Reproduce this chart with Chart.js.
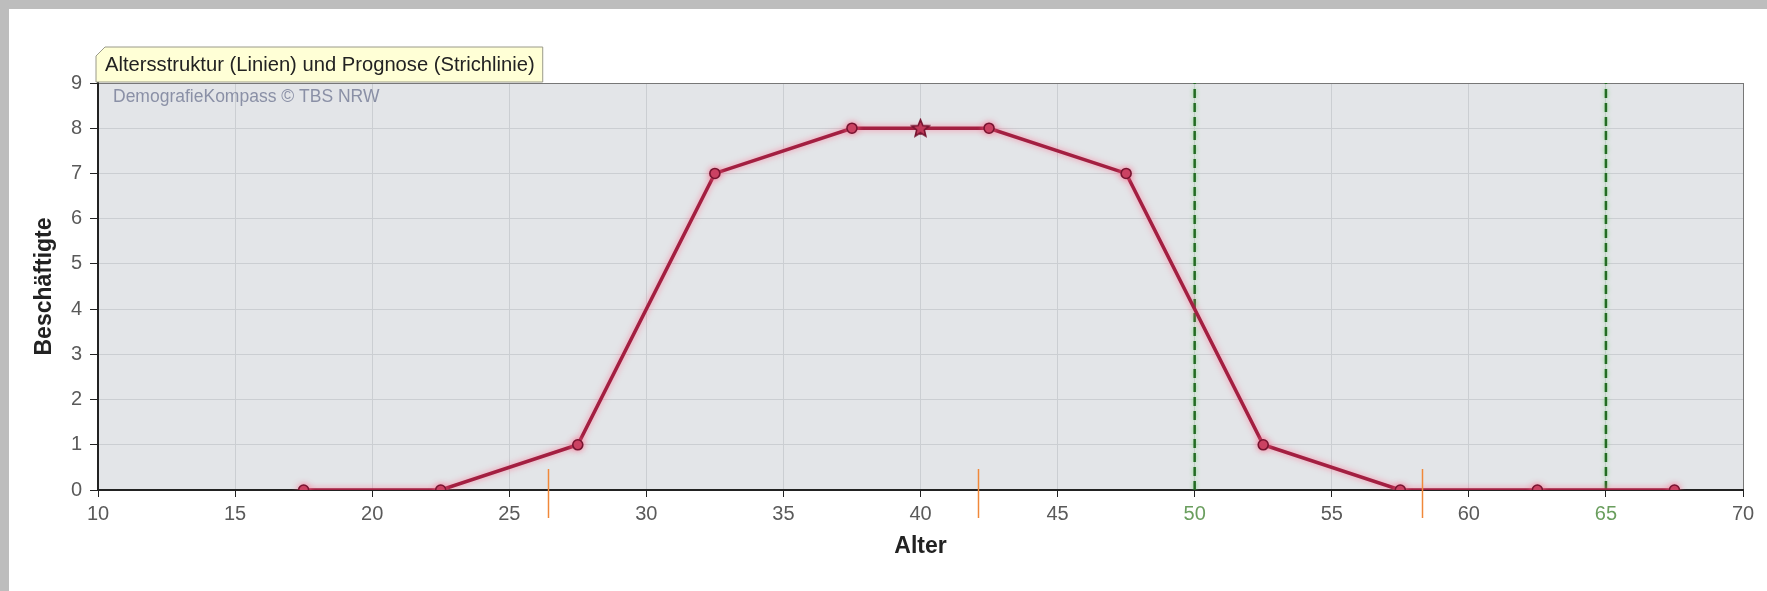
<!DOCTYPE html>
<html>
<head>
<meta charset="utf-8">
<script src="https://cdn.jsdelivr.net/npm/chart.js@4/dist/chart.umd.min.js"></script>
<style>
	html, body { margin: 0; padding: 0; background: #fff; }
	#box { position: relative; width: 1767px; height: 591px; }
</style>
</head>
<body>
<div id="box"><canvas id="myChart"></canvas></div>
<script>
// DATA
let alter = [17.5, 22.5, 27.5, 32.5, 37.5, 42.5, 47.5, 52.5, 57.5, 62.5, 67.5];
let beschaeftigte = [0, 0, 1, 7, 8, 8, 7, 1, 0, 0, 0];
let durchschnittAlter = [40];
let durchschnittWert = [8];
let prognoseAlter = [50, 65];
let markerAlter = [26.4, 42.1, 58.3];
let xTicks = { min: 10, max: 70, step: 5 };
let yTicks = { min: 0, max: 9, step: 1 };
let titelText = "Altersstruktur (Linien) und Prognose (Strichlinie)";
let quelleText = "DemografieKompass \u00A9 TBS NRW";

let FONT = "'Liberation Sans', Arial, sans-serif";

// STAR MARKER
let star = document.createElement("canvas");
star.width = 21;
star.height = 21;
let sctx = star.getContext("2d");
sctx.beginPath();
for (let i = 0; i < 10; i++) {
	let r = i % 2 === 0 ? 9 : 4;
	let a = -Math.PI / 2 + (i * Math.PI) / 5;
	let px = 10.5 + r * Math.cos(a);
	let py = 11 + r * Math.sin(a);
	if (i === 0) sctx.moveTo(px, py);
	else sctx.lineTo(px, py);
}
sctx.closePath();
sctx.fillStyle = "#c03a5a";
sctx.fill();
sctx.lineWidth = 1.6;
sctx.strokeStyle = "#761430";
sctx.stroke();

// DATASETS
let datasets = [];
datasets.push({
	label: "Altersstruktur",
	data: alter.map((a, i) => ({ x: a, y: beschaeftigte[i] })),
	borderColor: "#a31f41",
	borderWidth: 3.5,
	pointRadius: 5,
	pointBackgroundColor: "#c03a5a",
	pointBorderColor: "#761430",
	pointBorderWidth: 1.6,
	tension: 0,
	order: 1,
});
datasets.push({
	label: "Durchschnitt",
	data: durchschnittAlter.map((a, i) => ({ x: a, y: durchschnittWert[i] })),
	showLine: false,
	pointStyle: star,
	order: 0,
});
prognoseAlter.forEach((a) => {
	datasets.push({
		label: "Prognose " + a,
		data: [{ x: a, y: yTicks.min }, { x: a, y: yTicks.max }],
		borderColor: "#236b23",
		borderWidth: 2.5,
		borderDash: [9, 5],
		pointRadius: 0,
		order: 2,
	});
});

// PLUGIN: BACKGROUND, FRAME, TITLE BOX, MARKERS
let decor = {
	id: "decor",
	beforeDraw(chart) {
		let ctx = chart.ctx;
		let area = chart.chartArea;
		ctx.save();
		ctx.fillStyle = "#bdbdbd";
		ctx.fillRect(0, 0, chart.width, 9);
		ctx.fillRect(0, 0, 9, chart.height);
		ctx.fillStyle = "#e3e5e8";
		ctx.fillRect(area.left, area.top, area.right - area.left, area.bottom - area.top);
		ctx.restore();
	},
	beforeDatasetsDraw(chart) {
		let ctx = chart.ctx;
		let area = chart.chartArea;
		ctx.save();
		ctx.fillStyle = "#8a90a6";
		ctx.font = "17.5px " + FONT;
		ctx.textBaseline = "middle";
		ctx.fillText(quelleText, area.left + 15, area.top + 14);
		ctx.restore();
	},
	beforeDatasetDraw(chart, args) {
		let ctx = chart.ctx;
		ctx.save();
		if (args.meta.label === "Altersstruktur") {
			ctx.shadowColor = "rgba(255, 105, 140, 0.75)";
			ctx.shadowBlur = 6;
		} else if (args.meta.label.indexOf("Prognose") === 0) {
			ctx.shadowColor = "rgba(120, 220, 120, 0.9)";
			ctx.shadowBlur = 4;
		}
	},
	afterDatasetDraw(chart) {
		chart.ctx.restore();
	},
	afterDraw(chart) {
		let ctx = chart.ctx;
		let area = chart.chartArea;
		let xs = chart.scales.x;
		ctx.save();
		// orange markers
		ctx.strokeStyle = "#f0883a";
		ctx.lineWidth = 1.5;
		markerAlter.forEach((a) => {
			let px = Math.round(xs.getPixelForValue(a)) + 0.5;
			ctx.beginPath();
			ctx.moveTo(px, area.bottom - 21);
			ctx.lineTo(px, area.bottom + 28);
			ctx.stroke();
		});
		// title box
		ctx.font = "20.2px " + FONT;
		let w = ctx.measureText(titelText).width;
		let x0 = area.left - 2;
		let y0 = area.top - 36;
		let x1 = x0 + w + 17;
		let y1 = area.top - 1;
		ctx.beginPath();
		ctx.moveTo(x0, y0 + 9);
		ctx.lineTo(x0 + 9, y0);
		ctx.lineTo(x1, y0);
		ctx.lineTo(x1, y1);
		ctx.lineTo(x0, y1);
		ctx.closePath();
		ctx.fillStyle = "#ffffd6";
		ctx.fill();
		ctx.strokeStyle = "#9a9a8a";
		ctx.lineWidth = 1;
		ctx.stroke();
		ctx.fillStyle = "#222";
		ctx.textBaseline = "middle";
		ctx.fillText(titelText, x0 + 9, (y0 + y1) / 2 + 1);
		ctx.restore();
	},
};

// CHART
let ctx = document.getElementById("myChart").getContext("2d");
let myChart = new Chart(ctx, {
	type: "line",
	data: { datasets: datasets },
	plugins: [decor],
	options: {
		responsive: true,
		maintainAspectRatio: false,
		animation: false,
		layout: { padding: { top: 83, right: 24, left: 0, bottom: 0 } },
		plugins: {
			legend: { display: false },
			tooltip: { enabled: false },
		},
		scales: {
			x: {
				type: "linear",
				min: xTicks.min,
				max: xTicks.max,
				afterFit: (scale) => { scale.height = 101; },
				ticks: {
					stepSize: xTicks.step,
					padding: 5,
					font: { family: FONT, size: 20 },
					color: (c) => (prognoseAlter.includes(c.tick.value) ? "#6a9e5e" : "#5a5a5a"),
				},
				grid: {
					color: (c) => (c.tick && c.tick.value === xTicks.max ? "#777" : "#cbced2"),
					tickColor: "#222",
					tickLength: 7,
				},
				border: { color: "#222", width: 2 },
				title: {
					display: true,
					text: "Alter",
					color: "#222",
					font: { family: FONT, size: 23, weight: "bold" },
					padding: { top: 0, bottom: 31 },
				},
			},
			y: {
				min: yTicks.min,
				max: yTicks.max,
				afterFit: (scale) => { scale.width = 98; },
				ticks: {
					stepSize: yTicks.step,
					padding: 8,
					font: { family: FONT, size: 20 },
					color: "#5a5a5a",
				},
				grid: {
					color: (c) => (c.tick && c.tick.value === yTicks.max ? "#777" : "#cbced2"),
					tickColor: "#222",
					tickLength: 8,
				},
				border: { color: "#222", width: 2 },
				title: {
					display: true,
					text: "Besch\u00E4ftigte",
					color: "#222",
					font: { family: FONT, size: 23, weight: "bold" },
					padding: { top: 31, bottom: 0 },
				},
			},
		},
	},
});
</script>
</body>
</html>
